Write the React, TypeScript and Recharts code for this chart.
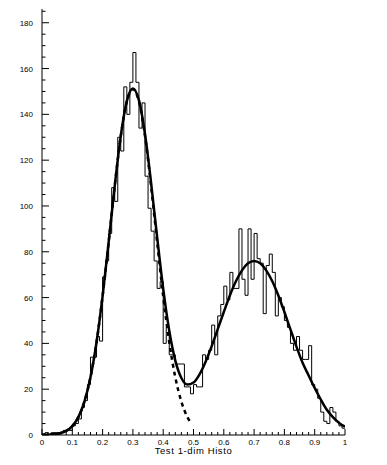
import { ComposedChart, Line, XAxis, YAxis } from "recharts";

// 100 bins of width 0.01 on [0, 1]
const binCounts = [
  0, 1, 0, 1, 1, 1, 1, 2, 2, 2,
  4, 5, 7, 12, 15, 22, 34, 34, 43, 41,
  69, 76, 88, 108, 102, 130, 124, 152, 140, 154,
  167, 154, 134, 145, 113, 99, 89, 76, 64, 67,
  40, 47, 35, 35, 31, 31, 31, 21, 21, 18,
  22, 21, 21, 35, 33, 37, 48, 35, 52, 57,
  65, 59, 71, 64, 64, 90, 68, 61, 90, 68,
  88, 77, 75, 53, 74, 79, 71, 52, 60, 56,
  50, 47, 40, 37, 43, 37, 33, 33, 39, 22,
  20, 16, 10, 6, 5, 12, 10, 6, 4, 3,
];
const BIN_WIDTH = 0.01;

// total fit
const fitX = [
  0, 0.02, 0.04, 0.06, 0.08, 0.1, 0.12, 0.14, 0.16, 0.18,
  0.2, 0.22, 0.24, 0.26, 0.28, 0.3, 0.32, 0.34, 0.36, 0.38,
  0.4, 0.42, 0.44, 0.46, 0.48, 0.5, 0.52, 0.54, 0.56, 0.58,
  0.6, 0.62, 0.64, 0.66, 0.68, 0.7, 0.72, 0.74, 0.76, 0.78,
  0.8, 0.82, 0.84, 0.86, 0.88, 0.9, 0.92, 0.94, 0.96, 0.98, 1,
];
const fitTotal = [
  0.1, 0.1, 0.3, 0.8, 1.8, 3.9, 7.8, 14.6, 25.2, 40.5,
  60.6, 84.2, 108.7, 130.6, 145.8, 151.3, 146.1, 131.3, 110.1, 86.4,
  63.9, 45.5, 32.5, 24.9, 22.0, 22.9, 26.5, 32.0, 38.8, 46.2,
  53.7, 60.9, 67.1, 71.9, 75.0, 76.0, 75.0, 71.9, 67.1, 60.9,
  53.7, 46.1, 38.5, 31.5, 26.0, 20.5, 15.5, 11.0, 7.8, 5.3, 3.6,
];

// first peak alone (dashed)
const g1X = [
  0, 0.02, 0.04, 0.06, 0.08, 0.1, 0.12, 0.14, 0.16, 0.18,
  0.2, 0.22, 0.24, 0.26, 0.28, 0.3, 0.32, 0.34, 0.36, 0.38,
  0.4, 0.42, 0.44, 0.46, 0.48, 0.49,
];
const g1Vals = [
  0.1, 0.1, 0.3, 0.8, 1.8, 3.9, 7.8, 14.6, 25.2, 40.5,
  60.6, 84.2, 108.7, 130.5, 145.6, 151, 145.6, 130.5, 108.7, 84.2,
  60.6, 40.5, 25.2, 14.6, 7.8, 5.6,
];

const xMajor = [0, 0.1, 0.2, 0.3, 0.4, 0.5, 0.6, 0.7, 0.8, 0.9, 1];
const xLabels = ["0", "0.1", "0.2", "0.3", "0.4", "0.5", "0.6", "0.7", "0.8", "0.9", "1"];
const yMajor = [0, 20, 40, 60, 80, 100, 120, 140, 160, 180];
const Y_MAX = 186;

const FONT = "'Liberation Sans', Arial, sans-serif";

const histData = [
  ...binCounts.map((c, i) => ({ x: i * BIN_WIDTH, y: c })),
  { x: 1, y: binCounts[binCounts.length - 1] },
];
const fitData = fitX.map((x, i) => ({ x, y: fitTotal[i] }));
const g1Data = g1X.map((x, i) => ({ x, y: g1Vals[i] }));

// minor ticks every 0.02 / every 5
const xTicks: number[] = [];
for (let i = 0; i <= 50; i++) xTicks.push(Math.round(i * 2) / 100);
const yTicks: number[] = [];
for (let v = 0; v <= 185; v += 5) yTicks.push(v);

function XTick({ x, y, payload }: any) {
  const idx = xMajor.findIndex((m) => Math.abs(m - payload.value) < 1e-6);
  const major = idx >= 0;
  return (
    <g>
      <line x1={x} x2={x} y1={y} y2={y - (major ? 6 : 3)} stroke="#000" />
      {major && (
        <text x={x} y={y + 9.5} textAnchor="middle" fontSize={8} fontFamily={FONT} fill="#000">
          {xLabels[idx]}
        </text>
      )}
    </g>
  );
}

function YTick({ x, y, payload }: any) {
  const major = yMajor.includes(payload.value);
  return (
    <g>
      <line x1={x} x2={x + (major ? 7 : 3.5)} y1={y} y2={y} stroke="#000" />
      {major && (
        <text x={x - 9} y={y + 3} textAnchor="end" fontSize={8} fontFamily={FONT} fill="#000">
          {payload.value}
        </text>
      )}
    </g>
  );
}

export default function App() {
  return (
    <div style={{ position: "absolute", left: 0, top: 0, width: 387, height: 465, background: "#fff" }}>
      <ComposedChart width={387} height={465} margin={{ top: 9, right: 42, left: 0, bottom: 0 }}>
        <XAxis
          xAxisId="b"
          dataKey="x"
          type="number"
          domain={[0, 1]}
          ticks={xTicks}
          interval={0}
          tickSize={0}
          tickMargin={0}
          tick={<XTick />}
          axisLine={{ stroke: "#000" }}
          height={30}
          allowDataOverflow
        />
        <XAxis xAxisId="t" orientation="top" type="number" domain={[0, 1]} tick={false} tickLine={false} axisLine={{ stroke: "#000" }} height={0} />
        <YAxis
          yAxisId="l"
          type="number"
          domain={[0, Y_MAX]}
          ticks={yTicks}
          interval={0}
          tickSize={0}
          tickMargin={0}
          tick={<YTick />}
          axisLine={{ stroke: "#000" }}
          width={42}
          allowDataOverflow
        />
        <YAxis yAxisId="r" orientation="right" type="number" domain={[0, Y_MAX]} tick={false} tickLine={false} axisLine={{ stroke: "#000" }} width={0} />
        <Line
          xAxisId="b"
          yAxisId="l"
          data={histData}
          dataKey="y"
          type="stepAfter"
          stroke="#000"
          strokeWidth={1}
          dot={false}
          isAnimationActive={false}
        />
        <Line
          xAxisId="b"
          yAxisId="l"
          data={fitData}
          dataKey="y"
          type="monotone"
          stroke="#000"
          strokeWidth={2.5}
          dot={false}
          isAnimationActive={false}
        />
        <Line
          xAxisId="b"
          yAxisId="l"
          data={g1Data}
          dataKey="y"
          type="monotone"
          stroke="#000"
          strokeWidth={2.5}
          strokeDasharray="4 4"
          dot={false}
          isAnimationActive={false}
        />
      </ComposedChart>
      <div
        style={{
          position: "absolute",
          left: 0,
          top: 445,
          width: 387,
          textAlign: "center",
          fontSize: 9.5,
          fontFamily: FONT,
          letterSpacing: 0.6,
          color: "#000",
        }}
      >
        Test 1-dim Histo
      </div>
    </div>
  );
}
